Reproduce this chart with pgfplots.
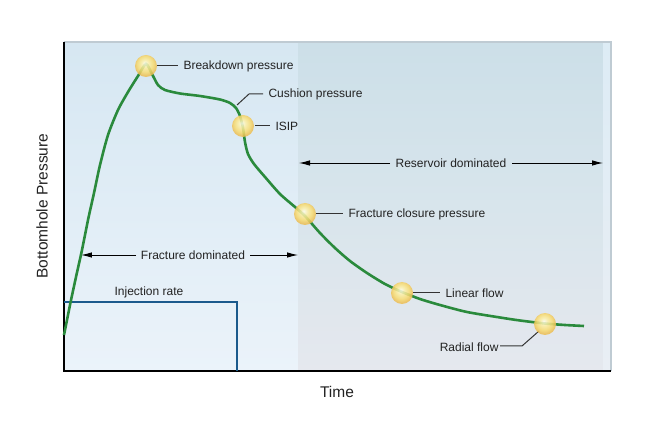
\documentclass[border=0pt]{standalone}
\usepackage{pgfplots}
\pgfplotsset{compat=1.18}
\usepackage{fontspec}
\setmainfont{Liberation Sans}
\usetikzlibrary{arrows.meta}
\definecolor{curvegreen}{HTML}{2A8A3C}
\definecolor{injblue}{HTML}{1B5A8C}
\definecolor{lefttop}{HTML}{D6E7F2}
\definecolor{leftbot}{HTML}{EBF3FA}
\definecolor{righttop}{HTML}{CCDFE8}
\definecolor{rightmid}{HTML}{D8E5EC}
\definecolor{rightbot}{HTML}{E5E8EE}
\definecolor{striptop}{HTML}{DDECF5}
\definecolor{stripbot}{HTML}{E9EEF4}
\definecolor{bordergray}{HTML}{BFCBD3}
\definecolor{txt}{HTML}{222222}
\definecolor{leader}{HTML}{333333}
\definecolor{ylA}{HTML}{FFFDEA}
\definecolor{ylB}{HTML}{FDF0A8}
\definecolor{ylC}{HTML}{F8DC72}
\definecolor{ylD}{HTML}{EDBF55}
\pgfdeclareradialshading{yballshade}{\pgfpoint{-3bp}{7bp}}{color(0bp)=(ylA); color(8bp)=(ylB); color(18bp)=(ylC); color(25bp)=(ylD); color(50bp)=(ylD)}
\pgfdeclareplotmark{yball}{%
  \pgfpathcircle{\pgfpointorigin}{\pgfplotmarksize}%
  \pgfshadepath{yballshade}{0}%
  \pgfusepath{discard}%
}
\begin{document}
\begin{tikzpicture}
\begin{axis}[
  scale only axis, width=547bp, height=329bp,
  xmin=64, xmax=611, ymin=0, ymax=329,
  axis line style={draw=none}, ticks=none, clip=false,
  font=\fontsize{12bp}{14bp}\selectfont,
]
% backgrounds
\fill[top color=lefttop, bottom color=leftbot] (axis cs:64,0) rectangle (axis cs:298,329);
\fill[top color=righttop, bottom color=rightbot, middle color=rightmid] (axis cs:298,0) rectangle (axis cs:603,329);
\fill[top color=striptop, bottom color=stripbot] (axis cs:603,0) rectangle (axis cs:611,329);
\draw[bordergray, line width=1.8bp] (axis cs:64,329) -- (axis cs:611,329) -- (axis cs:611,0);
\draw[black, line width=2bp] (axis cs:64,329) -- (axis cs:64,0) -- (axis cs:611,0);
% bounding box
\path (axis cs:0,-55) rectangle (axis cs:648,371);
% injection rate
\addplot[injblue, line width=1.8bp] coordinates {(64,69) (237,69) (237,0)};
\node[txt, anchor=base] at (axis cs:149,75) {Injection rate};
% arrows
\tikzset{harrow/.style={black, line width=0.9bp, -{Latex[length=11bp,width=5.5bp]}}}
\draw[harrow] (axis cs:136,116) -- (axis cs:81,116);
\draw[harrow] (axis cs:250,116) -- (axis cs:298,116);
\node[txt] at (axis cs:193,116) {Fracture dominated};
\draw[harrow] (axis cs:390,208) -- (axis cs:299,208);
\draw[harrow] (axis cs:512,208) -- (axis cs:603,208);
\node[txt] at (axis cs:451,208) {Reservoir dominated};
% curve
\addplot[curvegreen, line width=2.6bp, smooth, tension=0.45] coordinates {
(64,36) (70,66) (76,94) (82,121) (88,151) (94,178) (100,206) (108,236)
(118,261) (128,279) (138,295) (146,307) (152,297) (158,286) (165,281)
(180,277.5) (200,275) (220,271.5) (230,268) (236,263) (240,255) (243,243)
(245,229) (248,217) (254,207) (265,194) (280,177) (295,164) (305,155)
(320,138) (335,123) (350,110) (367,98) (385,87) (402,79) (420,72)
(440,66) (467,59) (500,53.5) (520,50.5) (545,47.5) (565,46) (584,45)
};
% leaders
\draw[leader, line width=1bp] (axis cs:157,305) -- (axis cs:178,305);
\draw[leader, line width=1bp] (axis cs:237,266) -- (axis cs:249,277) -- (axis cs:263,277);
\draw[leader, line width=1bp] (axis cs:255,245) -- (axis cs:270,245);
\draw[leader, line width=1bp] (axis cs:316,157) -- (axis cs:343,157);
\draw[leader, line width=1bp] (axis cs:413,78) -- (axis cs:440,78);
\draw[leader, line width=1bp] (axis cs:500,25) -- (axis cs:522,25) -- (axis cs:539,40);
% balls
\addplot[only marks, mark=yball, mark size=11bp, mark options={opacity=0.85}] coordinates {
(146,305) (243,245) (305,157) (402,78) (545,47)
};
% labels
\node[txt, anchor=west] at (axis cs:180,305) {Breakdown pressure};
\node[txt, anchor=west] at (axis cs:265,277) {Cushion pressure};
\node[txt, anchor=west] at (axis cs:272,245) {ISIP};
\node[txt, anchor=west] at (axis cs:345,157) {Fracture closure pressure};
\node[txt, anchor=west] at (axis cs:442,78) {Linear flow};
\node[txt, anchor=east] at (axis cs:502,24) {Radial flow};
% axis labels
\node[txt, font=\fontsize{15.5bp}{17bp}\selectfont] at (axis cs:337,-21) {Time};
\node[txt, rotate=90, font=\fontsize{15.5bp}{17bp}\selectfont] at (axis cs:42,165) {Bottomhole Pressure};
\end{axis}
\end{tikzpicture}
\end{document}
